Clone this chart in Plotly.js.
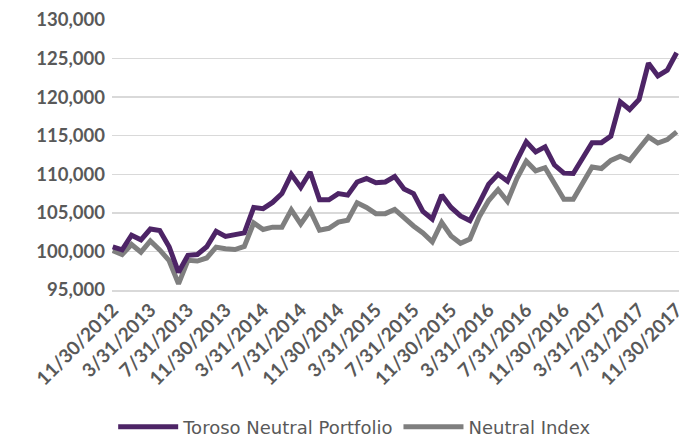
<!DOCTYPE html>
<html>
<head>
<meta charset="utf-8">
<script src="https://cdn.plot.ly/plotly-3.0.1.min.js"></script>
<style>html,body{margin:0;padding:0;background:#fff;}#chart{width:679px;height:439px;}</style>
</head>
<body>
<div id="chart"></div>
<script>
var dates = [
 "11/30/2012","12/31/2012","1/31/2013","2/28/2013","3/31/2013","4/30/2013","5/31/2013","6/30/2013","7/31/2013","8/31/2013","9/30/2013","10/31/2013",
 "11/30/2013","12/31/2013","1/31/2014","2/28/2014","3/31/2014","4/30/2014","5/31/2014","6/30/2014","7/31/2014","8/31/2014","9/30/2014","10/31/2014",
 "11/30/2014","12/31/2014","1/31/2015","2/28/2015","3/31/2015","4/30/2015","5/31/2015","6/30/2015","7/31/2015","8/31/2015","9/30/2015","10/31/2015",
 "11/30/2015","12/31/2015","1/31/2016","2/29/2016","3/31/2016","4/30/2016","5/31/2016","6/30/2016","7/31/2016","8/31/2016","9/30/2016","10/31/2016",
 "11/30/2016","12/31/2016","1/31/2017","2/28/2017","3/31/2017","4/30/2017","5/31/2017","6/30/2017","7/31/2017","8/31/2017","9/30/2017","10/31/2017",
 "11/30/2017"
];
var toroso = [
 100600,100200,102100,101500,102900,102700,100600,97300,99500,99600,100600,102600,
 101950,102200,102400,105700,105550,106350,107500,110000,108300,110300,106700,106700,
 107500,107300,109000,109450,108900,109000,109700,108100,107500,105200,104200,107300,
 105700,104600,104000,106300,108700,110000,109100,111800,114200,112900,113550,111200,
 110150,110100,112200,114100,114100,114950,119400,118400,119700,124400,122750,123500,
 125750
];
var neutral = [
 100100,99600,100900,99900,101350,100200,98800,95800,98850,98750,99150,100550,
 100350,100250,100650,103700,102850,103150,103150,105400,103550,105300,102750,103000,
 103800,104050,106300,105700,104900,104900,105450,104300,103300,102400,101250,103750,
 102000,101050,101600,104500,106600,108000,106500,109450,111700,110450,110850,108800,
 106750,106750,108800,110950,110750,111800,112350,111800,113350,114850,114050,114500,
 115500
];
var legendNames = ["Toroso Neutral Portfolio", "Neutral Index"];

var idx = dates.map(function(d, i){ return i; });
var labelVals = idx.filter(function(i){ return i % 4 === 0; });
var labelText = labelVals.map(function(i){ return dates[i]; });
var tickMarkVals = idx.filter(function(i){ return i % 3 === 0; });

var yFont = {family: "Lato, 'Open Sans', sans-serif", size: 18.5, color: "#595959", weight: "bold"};
var xFont = {family: "Lato, 'Open Sans', sans-serif", size: 19, color: "#595959", weight: "bold"};

var portfolio = {x: idx, y: toroso, type: "scatter", mode: "lines", name: legendNames[0],
  line: {color: "#4D2466", width: 5}, hoverinfo: "skip"};
var index = {x: idx, y: neutral, type: "scatter", mode: "lines", name: legendNames[1],
  line: {color: "#7F7F7F", width: 5}, hoverinfo: "skip"};

var xr = [-0.08, 60.25];
var layout = {
 width: 679, height: 439,
 margin: {l: 112, r: 0, t: 20, b: 149},
 paper_bgcolor: "#ffffff", plot_bgcolor: "#ffffff",
 showlegend: true,
 legend: {orientation: "h", xref: "paper", x: 0.428, xanchor: "center",
  yref: "container", y: 0.027, yanchor: "middle",
  font: {family: "'DejaVu Sans', Verdana, sans-serif", size: 18, color: "#595959"},
  itemwidth: 60, traceorder: "reversed"},
 xaxis: {type: "linear", range: xr, tickmode: "array", tickvals: labelVals, ticktext: labelText,
  tickangle: -45, tickfont: xFont, ticks: "", showgrid: false, zeroline: false,
  ticklabeloverflow: "allow",
  showline: true, linecolor: "#D9D9D9", linewidth: 1.5, fixedrange: true},
 xaxis2: {type: "linear", range: xr, overlaying: "x", anchor: "y", side: "bottom",
  tickmode: "array", tickvals: tickMarkVals, ticks: "outside", ticklen: 6, tickwidth: 1.5,
  tickcolor: "#D9D9D9", showticklabels: false, showgrid: false, zeroline: false, showline: false},
 yaxis: {range: [95000, 130000], dtick: 5000, tick0: 95000, tickformat: ",d",
  tickfont: yFont, showgrid: true, gridcolor: "#D9D9D9", gridwidth: 1.5,
  zeroline: false, showline: false, ticks: "", ticklabelstandoff: 6, fixedrange: true}
};
// index drawn first, portfolio on top; legend reversed so portfolio is listed first
Plotly.newPlot("chart", [index, portfolio], layout, {displayModeBar: false, staticPlot: true});
</script>
</body>
</html>
